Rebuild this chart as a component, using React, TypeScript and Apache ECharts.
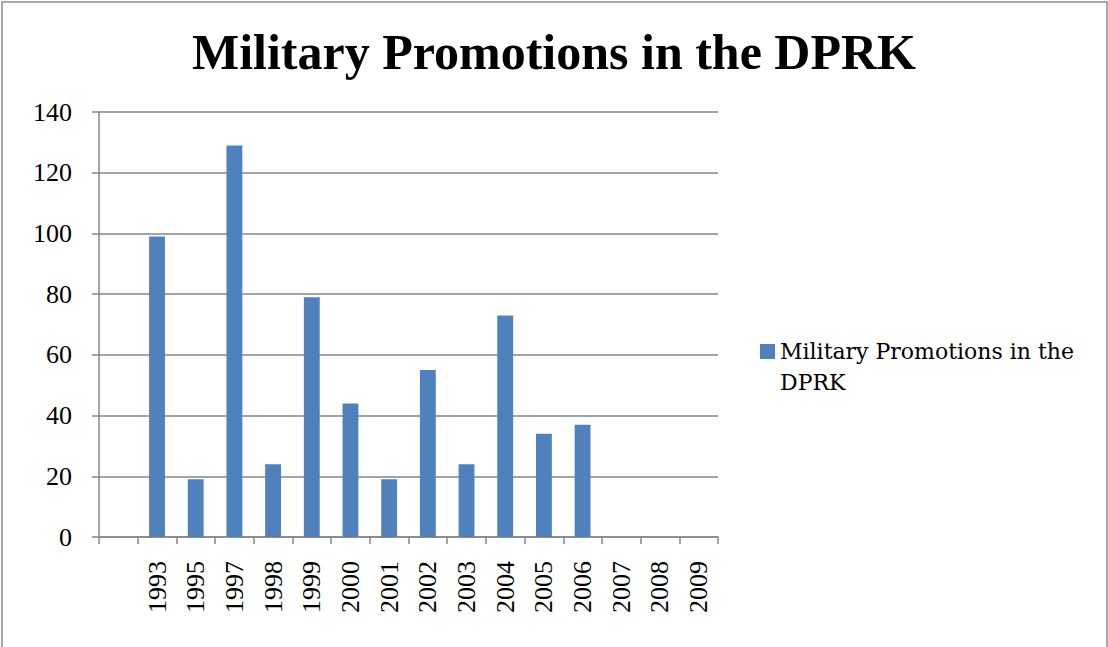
import React, { useEffect, useRef } from "react";
import * as echarts from "echarts";

const titleText = "Military Promotions in the DPRK";
const seriesName = "Military Promotions in the DPRK";
const legendLabel = "\nMilitary Promotions in the\nDPRK";
const categories = ["", "1993", "1995", "1997", "1998", "1999", "2000", "2001", "2002", "2003", "2004", "2005", "2006", "2007", "2008", "2009"];
const values: (number | null)[] = [null, 99, 19, 129, 24, 79, 44, 19, 55, 24, 73, 34, 37, null, null, null];
const yMin = 0;
const yMax = 140;
const yInterval = 20;

export default function App() {
  const ref = useRef<HTMLDivElement>(null);
  useEffect(() => {
    document.body.style.margin = "0";
    const chart = echarts.init(ref.current!, null, { renderer: "svg" });
    const serif = "Liberation Serif";
    chart.setOption({
      animation: false,
      backgroundColor: "#ffffff",
      title: {
        text: titleText,
        left: "center",
        top: 22,
        textStyle: { fontFamily: serif, fontWeight: "bold", fontSize: 50, color: "#000" },
      },
      grid: { left: 99, right: 390, top: 112, bottom: 110, containLabel: false },
      legend: {
        left: 755,
        top: 300,
        orient: "vertical",
        itemWidth: 15,
        itemHeight: 15,
        icon: "rect",
        itemGap: 6,
        formatter: () => legendLabel,
        textStyle: { fontFamily: "DejaVu Serif", fontSize: 22, color: "#000", lineHeight: 31 },
      },
      xAxis: {
        type: "category",
        data: categories,
        boundaryGap: true,
        axisLine: { lineStyle: { color: "#868686", width: 1.5 } },
        axisTick: { show: true, length: 7, alignWithLabel: false, lineStyle: { color: "#868686", width: 1.5 } },
        axisLabel: { rotate: 90, margin: 24, fontFamily: serif, fontSize: 26, color: "#000", interval: 0 },
      },
      yAxis: {
        type: "value",
        min: yMin,
        max: yMax,
        interval: yInterval,
        axisLine: { show: true, lineStyle: { color: "#868686", width: 1.5 } },
        axisTick: { show: true, length: 7, lineStyle: { color: "#868686", width: 1.5 } },
        splitLine: { lineStyle: { color: "#868686", width: 1.5 } },
        axisLabel: { margin: 27, fontFamily: serif, fontSize: 26, color: "#000" },
      },
      graphic: [
        {
          type: "rect",
          shape: { x: 2, y: 2, width: 1105, height: 700 },
          style: { fill: "none", stroke: "#8c8c8c", lineWidth: 1.5 },
          silent: true,
        },
      ],
      series: [
        {
          name: seriesName,
          type: "bar",
          data: values,
          barCategoryGap: "59%",
          itemStyle: { color: "#4F81BD" },
        },
      ],
    });
    return () => chart.dispose();
  }, []);
  return <div ref={ref} style={{ width: 1108, height: 647, position: "absolute", left: 0, top: 0 }} />;
}
